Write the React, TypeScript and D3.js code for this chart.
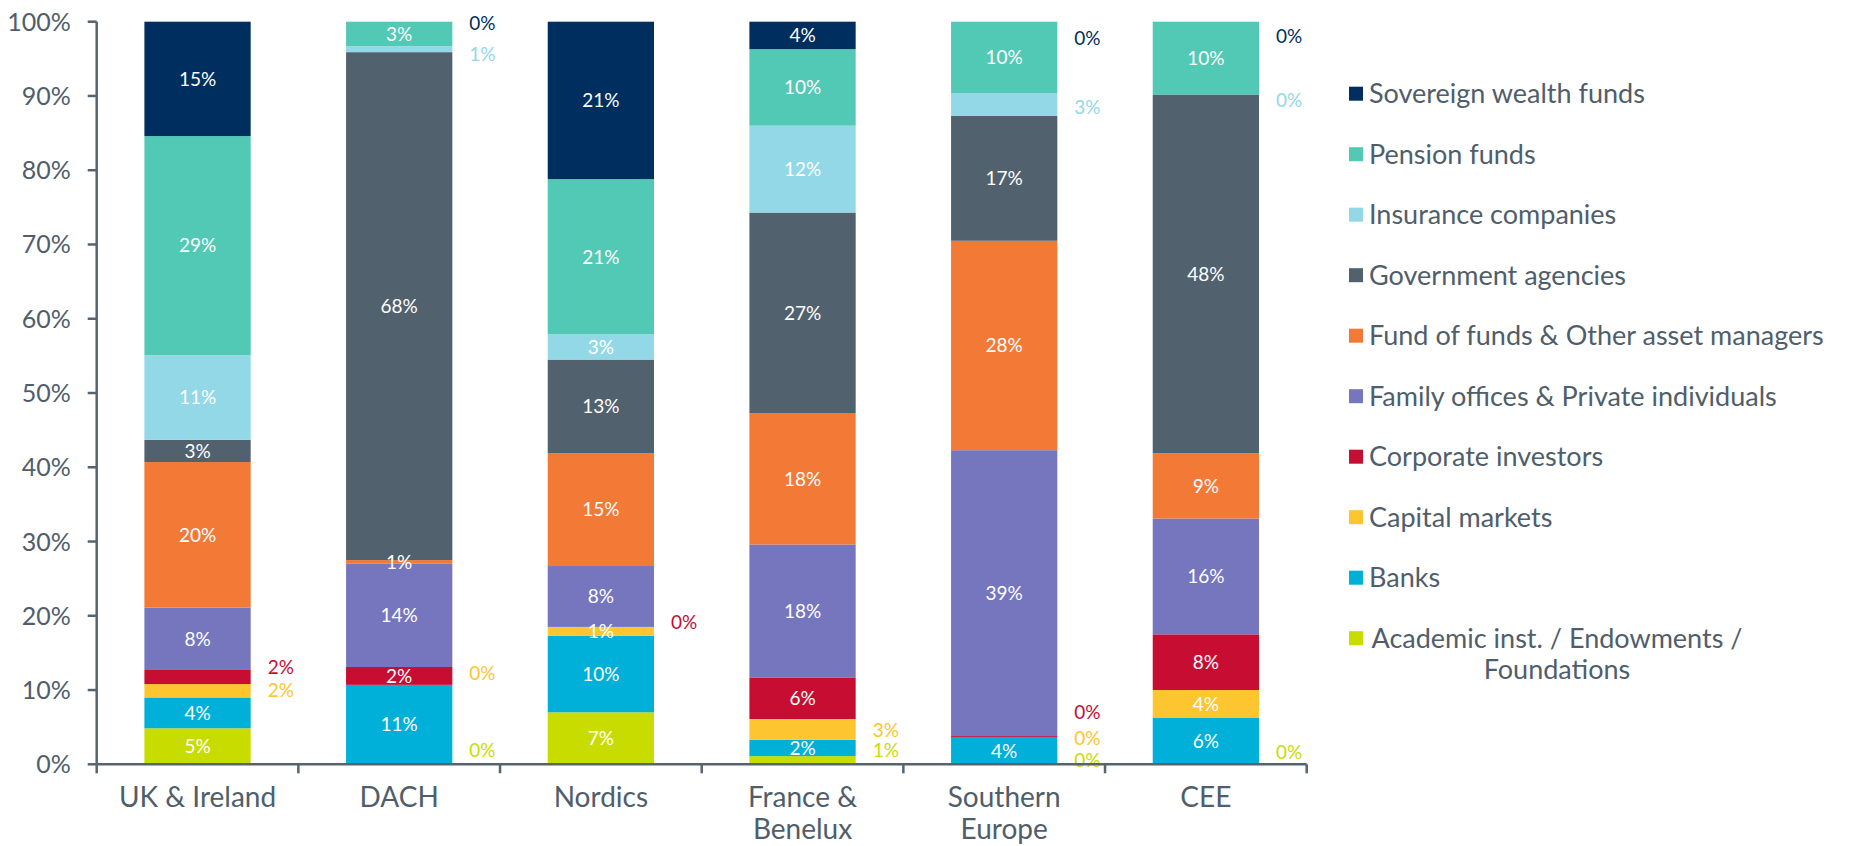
import React from "react";
import * as d3 from "d3";

const categories = ["UK & Ireland", "DACH", "Nordics", "France & Benelux", "Southern Europe", "CEE"];
const categoryLines = [["UK & Ireland"], ["DACH"], ["Nordics"], ["France &", "Benelux"], ["Southern", "Europe"], ["CEE"]];

// stack order: bottom -> top
const seriesKeys = ["academic", "banks", "capital", "corporate", "family", "fund", "government", "insurance", "pension", "sovereign"];
const seriesNames = [
  "Academic inst. / Endowments / Foundations",
  "Banks",
  "Capital markets",
  "Corporate investors",
  "Family offices & Private individuals",
  "Fund of funds & Other asset managers",
  "Government agencies",
  "Insurance companies",
  "Pension funds",
  "Sovereign wealth funds",
];
const seriesColors = ["#c9dc00", "#00b0d8", "#fdc52f", "#c70d32", "#7676bf", "#f37937", "#51626e", "#93d8e6", "#52c9b4", "#002f5f"];

const academic = [4.85, 0, 7.0, 1.1, 0, 0];
const banks = [4.15, 10.7, 10.3, 2.2, 3.6, 6.3];
const capital = [1.8, 0, 1.2, 2.8, 0, 3.7];
const corporate = [1.9, 2.4, 0, 5.6, 0.2, 7.5];
const family = [8.4, 13.9, 8.2, 17.9, 38.5, 15.6];
const fund = [19.6, 0.5, 15.2, 17.7, 28.2, 8.8];
const government = [3.0, 68.4, 12.6, 27.0, 16.8, 48.3];
const insurance = [11.4, 0.8, 3.4, 11.7, 3.1, 0];
const pension = [29.5, 3.3, 20.9, 10.3, 9.6, 9.8];
const sovereign = [15.4, 0, 21.2, 3.7, 0, 0];

const seriesValues = [academic, banks, capital, corporate, family, fund, government, insurance, pension, sovereign];

const yTicks = [0, 10, 20, 30, 40, 50, 60, 70, 80, 90, 100];

// labels drawn beside the bar (category index, series key, vertical position in % units)
const outsideLabels = [
  { c: 0, k: "corporate", at: 13.1 },
  { c: 0, k: "capital", at: 10.0 },
  { c: 1, k: "sovereign", at: 99.8 },
  { c: 1, k: "insurance", at: 95.6 },
  { c: 1, k: "capital", at: 12.3 },
  { c: 1, k: "academic", at: 1.9 },
  { c: 2, k: "corporate", at: 19.2 },
  { c: 3, k: "capital", at: 4.6 },
  { c: 3, k: "academic", at: 1.9 },
  { c: 4, k: "sovereign", at: 97.8 },
  { c: 4, k: "insurance", at: 88.5 },
  { c: 4, k: "corporate", at: 7.0 },
  { c: 4, k: "capital", at: 3.5 },
  { c: 4, k: "academic", at: 0.6 },
  { c: 5, k: "sovereign", at: 98.0 },
  { c: 5, k: "insurance", at: 89.5 },
  { c: 5, k: "academic", at: 1.6 },
];

const FONT = "Lato, 'Open Sans', sans-serif";
const AXIS = "#56646e";
const TEXT = "#4f5e6a";

export default function App() {
  const W = 1869, H = 846;
  const x0 = 96.7, x1 = 1306.7, yBottom = 764.3, yTop = 21.7;
  const x = d3.scaleBand<string>().domain(categories).range([x0, x1]).padding(0);
  const y = d3.scaleLinear().domain([0, 100]).range([yBottom, yTop]);
  const barW = x.bandwidth() * 0.527;

  const rows = categories.map((c, i) => {
    const r: any = { cat: c };
    seriesKeys.forEach((k, j) => (r[k] = seriesValues[j][i]));
    return r;
  });
  const stacked = d3.stack<any>().keys(seriesKeys)(rows);

  const outsideSet = new Set(outsideLabels.map((o) => `${o.c}|${o.k}`));

  return (
    <svg width={W} height={H} style={{ position: "absolute", left: 0, top: 0, background: "#fff" }} fontFamily={FONT}>
      {/* bars */}
      {stacked.map((s, j) => (
        <g key={s.key}>
          {s.map((d, i) => {
            const v = d[1] - d[0];
            if (v <= 0) return null;
            const cx = (x(categories[i]) as number) + x.bandwidth() / 2;
            return (
              <rect key={i} x={cx - barW / 2} y={y(d[1])} width={barW} height={y(d[0]) - y(d[1])} fill={seriesColors[j]} />
            );
          })}
        </g>
      ))}
      {/* inside labels */}
      {stacked.map((s, j) => (
        <g key={"l" + s.key}>
          {s.map((d, i) => {
            const v = d[1] - d[0];
            if (v <= 0 || outsideSet.has(`${i}|${s.key}`)) return null;
            const cx = (x(categories[i]) as number) + x.bandwidth() / 2;
            return (
              <text key={i} x={cx} y={y((d[0] + d[1]) / 2)} dy="0.36em" textAnchor="middle" fill="#fff" fontSize={19}>
                {Math.round(v)}%
              </text>
            );
          })}
        </g>
      ))}
      {/* outside labels */}
      {outsideLabels.map((o, idx) => {
        const j = seriesKeys.indexOf(o.k);
        const v = seriesValues[j][o.c];
        const cx = (x(categories[o.c]) as number) + x.bandwidth() / 2;
        return (
          <text key={idx} x={cx + barW / 2 + 17} y={y(o.at)} dy="0.36em" fill={seriesColors[j]} fontSize={19}>
            {Math.round(v)}%
          </text>
        );
      })}
      {/* y axis */}
      <line x1={x0} x2={x0} y1={yTop} y2={yBottom} stroke={AXIS} strokeWidth={2.5} />
      {yTicks.map((t) => (
        <g key={t}>
          <line x1={x0 - 9} x2={x0} y1={y(t)} y2={y(t)} stroke={AXIS} strokeWidth={2.5} />
          <text x={70.7} y={y(t)} dy="0.36em" textAnchor="end" fill={TEXT} fontSize={25}>
            {t}%
          </text>
        </g>
      ))}
      {/* x axis */}
      <line x1={x0} x2={x1} y1={yBottom} y2={yBottom} stroke={AXIS} strokeWidth={2.5} />
      {categories.map((c, i) => (
        <line key={"t" + i} x1={x(c) as number} x2={x(c) as number} y1={yBottom} y2={yBottom + 9} stroke={AXIS} strokeWidth={2.5} />
      ))}
      <line x1={x1} x2={x1} y1={yBottom} y2={yBottom + 9} stroke={AXIS} strokeWidth={2.5} />
      {categories.map((c, i) => (
        <text key={"c" + i} x={(x(c) as number) + x.bandwidth() / 2} y={807} textAnchor="middle" fill={TEXT} fontSize={28}>
          {categoryLines[i].map((ln, k) => (
            <tspan key={k} x={(x(c) as number) + x.bandwidth() / 2} dy={k === 0 ? 0 : 31.5}>
              {ln}
            </tspan>
          ))}
        </text>
      ))}
      {/* legend */}
      {seriesKeys
        .map((k, j) => j)
        .reverse()
        .map((j, r) => {
          const cy = 93.7 + r * 60.5;
          const name = seriesNames[j];
          const isLast = j === 0;
          return (
            <g key={"lg" + j}>
              <rect x={1349} y={cy - 7} width={14} height={14} fill={seriesColors[j]} />
              {isLast ? (
                <text fill={TEXT} fontSize={27} textAnchor="middle">
                  <tspan x={1557} y={cy + 9.7}>Academic inst. / Endowments /</tspan>
                  <tspan x={1557} y={cy + 9.7 + 31}>Foundations</tspan>
                </text>
              ) : (
                <text x={1369} y={cy + 9.7} fill={TEXT} fontSize={27}>
                  {name}
                </text>
              )}
            </g>
          );
        })}
    </svg>
  );
}
